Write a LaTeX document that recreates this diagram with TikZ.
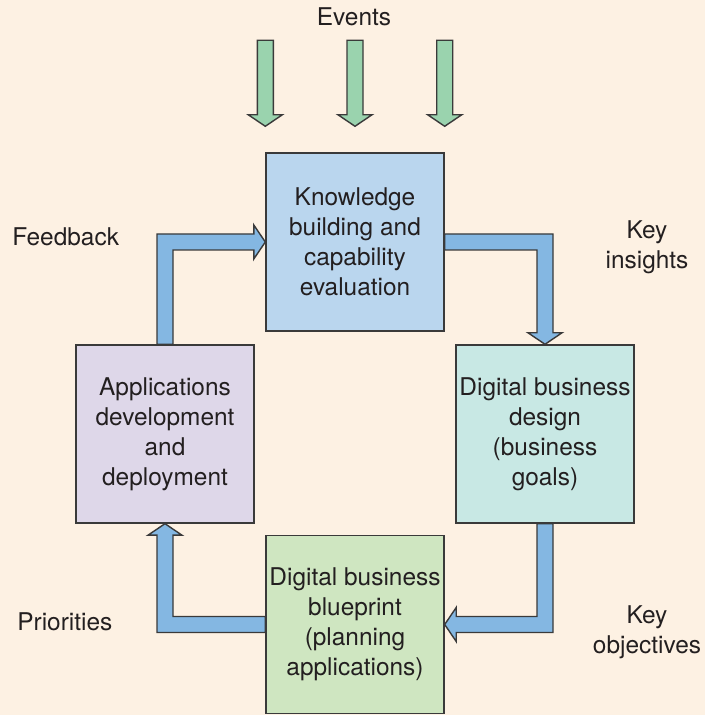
\documentclass[tikz,border=0pt]{standalone}
\usepackage{fontspec}
\setmainfont{TeX Gyre Heros}
\usetikzlibrary{calc}
\definecolor{paper}{HTML}{FDF1E3}
\definecolor{edge}{HTML}{3A3A3A}
\definecolor{ink}{HTML}{231F20}
\definecolor{knowfill}{HTML}{BAD6EE}
\definecolor{appsfill}{HTML}{DED7E9}
\definecolor{designfill}{HTML}{C8E8E4}
\definecolor{planfill}{HTML}{CFE6C1}
\definecolor{flowblue}{HTML}{84B7E2}
\definecolor{eventgreen}{HTML}{9AD3AE}
\newcommand\diagfont{\fontsize{13.9pt}{17.07pt}\selectfont}

\begin{document}
\begin{tikzpicture}[line join=miter,
    stage/.style={draw=edge, line width=0.8pt, minimum width=3.56cm,
      minimum height=3.56cm, inner sep=0pt, align=center, text=ink,
      font=\diagfont},
    lbl/.style={inner sep=0pt, text=ink, font=\diagfont},
    flow/.style={draw=edge, fill=flowblue, line width=0.8pt},
    event/.style={draw=edge, fill=eventgreen, line width=0.8pt}]
  % paper
  \fill[paper] (0,0) rectangle (14.1,14.3);
  % the four stages of the cycle
  \node[stage, fill=knowfill] (know) at (7.10,9.46)
    {Knowledge\\building and\\capability\\evaluation};
  \node[stage, fill=appsfill] (apps) at (3.30,5.62)
    {Applications\\development\\and\\deployment};
  \node[stage, fill=designfill] (design) at (10.90,5.62)
    {Digital business\\design\\(business\\goals)};
  \node[stage, fill=planfill] (plan) at (7.10,1.81)
    {Digital business\\blueprint\\(planning\\applications)};
  % corners of the bent arrows
  \coordinate (fb) at (apps.north |- know.west);
  \coordinate (ki) at (design.north |- know.east);
  \coordinate (ko) at (design.south |- plan.east);
  \coordinate (pr) at (apps.south |- plan.west);
  % feedback: apps -> know
  \draw[flow] ($(apps.north)+(-0.16,0)$) -- ($(fb)+(-0.16,0.16)$)
    -- ($(know.west)+(-0.23,0.16)$) -- ($(know.west)+(-0.23,0.34)$)
    -- (know.west) -- ($(know.west)+(-0.23,-0.34)$)
    -- ($(know.west)+(-0.23,-0.16)$) -- ($(fb)+(0.16,-0.16)$)
    -- ($(apps.north)+(0.16,0)$) -- cycle;
  % key insights: know -> design
  \draw[flow] ($(know.east)+(0,0.16)$) -- ($(ki)+(0.16,0.16)$)
    -- ($(design.north)+(0.16,0.23)$) -- ($(design.north)+(0.34,0.23)$)
    -- (design.north) -- ($(design.north)+(-0.34,0.23)$)
    -- ($(design.north)+(-0.16,0.23)$) -- ($(ki)+(-0.16,-0.16)$)
    -- ($(know.east)+(0,-0.16)$) -- cycle;
  % key objectives: design -> plan
  \draw[flow] ($(design.south)+(0.16,0)$) -- ($(ko)+(0.16,-0.16)$)
    -- ($(plan.east)+(0.23,-0.16)$) -- ($(plan.east)+(0.23,-0.34)$)
    -- (plan.east) -- ($(plan.east)+(0.23,0.34)$)
    -- ($(plan.east)+(0.23,0.16)$) -- ($(ko)+(-0.16,0.16)$)
    -- ($(design.south)+(-0.16,0)$) -- cycle;
  % priorities: plan -> apps
  \draw[flow] ($(plan.west)+(0,-0.16)$) -- ($(pr)+(-0.16,-0.16)$)
    -- ($(apps.south)+(-0.16,-0.23)$) -- ($(apps.south)+(-0.34,-0.23)$)
    -- (apps.south) -- ($(apps.south)+(0.34,-0.23)$)
    -- ($(apps.south)+(0.16,-0.23)$) -- ($(pr)+(0.16,0.16)$)
    -- ($(plan.west)+(0,0.16)$) -- cycle;
  % incoming events
  \foreach \spot in {north west,north,north east}
    \draw[event] ($(know.\spot)+(0,0.52)$) -- ++(-0.34,0.23) -- ++(0.18,0)
      -- ++(0,1.49) -- ++(0.32,0) -- ++(0,-1.49) -- ++(0.18,0) -- cycle;
  % labels
  \node[lbl, anchor=base] (events) at (7.08,13.78) {Events};
  \node[lbl, anchor=base west] (feedback) at (0.24,9.38) {Feedback};
  \node[lbl, align=center] (insights) at (12.94,9.36) {Key\\insights};
  \node[lbl, align=center] (objectives) at (12.94,1.66) {Key\\objectives};
  \node[lbl, anchor=base west] (priorities) at (0.34,1.68) {Priorities};
\end{tikzpicture}
\end{document}
